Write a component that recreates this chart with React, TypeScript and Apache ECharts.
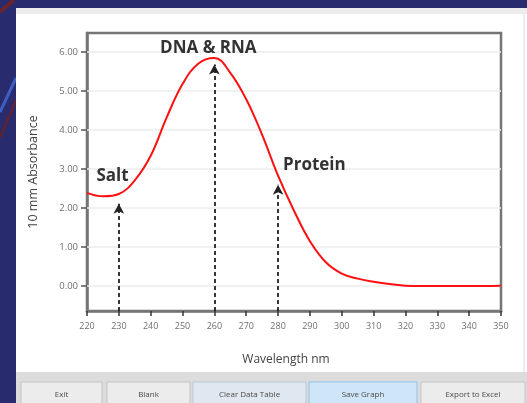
import React, { useEffect, useRef } from "react";
import * as echarts from "echarts";

// ---- data ----
const wavelengths = [220, 225, 230, 235, 240, 245, 250, 255, 260, 265, 270, 275, 280, 285, 290, 295, 300, 305, 310, 315, 320, 325, 330, 335, 340, 345, 350];
const absorbance = [2.38, 2.29, 2.35, 2.7, 3.33, 4.31, 5.17, 5.7, 5.84, 5.46, 4.78, 3.87, 2.82, 1.92, 1.14, 0.6, 0.31, 0.18, 0.1, 0.04, 0.0, -0.01, -0.01, -0.01, -0.01, -0.01, 0.0];

const yTickValues = [0, 1, 2, 3, 4, 5, 6];
const xTickLabels = ["220", "230", "240", "250", "260", "270", "280", "290", "300", "310", "320", "330", "340", "350"];

const peakNames = ["Salt", "DNA & RNA", "Protein"];
const arrowWavelengths = [230, 260, 280];
const arrowTips = [2.1, 5.67, 2.59];
const labelWavelengths = [228, 258.1, 291.4];
const labelValues = [2.85, 6.13, 3.13];

const buttonNames = ["Exit", "Blank", "Clear Data Table", "Save Graph", "Export to Excel"];

const Y_MIN = -0.65;
const Y_MAX = 6.48;

export default function App() {
  const ref = useRef<HTMLDivElement>(null);

  useEffect(() => {
    document.body.style.margin = "0";
    const chart = echarts.init(ref.current!, null, { renderer: "svg" });

    const btnBoxes = [
      [21, 102],
      [107, 190],
      [193, 306],
      [309, 417],
      [421, 525],
    ];
    const btnFills = ["#ececec", "#ececec", "#dfe8f0", "#cfe6f8", "#ececec"];
    const btnStrokes = ["#c4c4c4", "#c4c4c4", "#b7c9da", "#8fc0e8", "#c4c4c4"];

    const graphics: any[] = [
      { type: "rect", z: -10, shape: { x: 0, y: 0, width: 527, height: 403 }, style: { fill: "#282b6d" } },
      { type: "line", z: -9, shape: { x1: 0, y1: 112, x2: 16, y2: 78 }, style: { stroke: "#3f5fc0", lineWidth: 3 } },
      { type: "line", z: -9, shape: { x1: 0, y1: 138, x2: 16, y2: 100 }, style: { stroke: "#5a2438", lineWidth: 3 } },
      { type: "line", z: -9, shape: { x1: 0, y1: 12, x2: 14, y2: 0 }, style: { stroke: "#6a2430", lineWidth: 4 } },
      { type: "rect", z: -8, shape: { x: 16, y: 8, width: 511, height: 365 }, style: { fill: "#ffffff" } },
      { type: "rect", z: -8, shape: { x: 16, y: 8, width: 511, height: 6 }, style: { fill: "#ececec" } },
      { type: "line", z: -8, shape: { x1: 524, y1: 14, x2: 524, y2: 372 }, style: { stroke: "#dadada", lineWidth: 1 } },
      { type: "rect", z: -8, shape: { x: 16, y: 372, width: 511, height: 31 }, style: { fill: "#dcdcdc" } },
    ];
    buttonNames.forEach((name, i) => {
      const [x0, x1] = btnBoxes[i];
      graphics.push({
        type: "rect",
        z: -7,
        shape: { x: x0, y: 382, width: x1 - x0, height: 22 },
        style: { fill: btnFills[i], stroke: btnStrokes[i], lineWidth: 1 },
      });
      graphics.push({
        type: "text",
        z: -6,
        x: (x0 + x1) / 2,
        y: 393,
        style: {
          text: name,
          fill: "#4a4a4a",
          font: "8px 'Open Sans'",
          align: "center",
          verticalAlign: "middle",
        },
      });
    });

    const option: any = {
      animation: false,
      graphic: graphics,
      grid: {
        left: 87,
        top: 33,
        right: 26,
        bottom: 92,
        show: true,
        borderColor: "#757575",
        borderWidth: 2.5,
        backgroundColor: "transparent",
      },
      xAxis: {
        type: "value",
        min: 220,
        max: 350,
        interval: 10,
        name: "Wavelength nm",
        nameLocation: "middle",
        nameGap: 41,
        nameTextStyle: {
          fontFamily: "Open Sans",
          fontSize: 12,
          color: "#444444",
          padding: [0, 16, 0, 0],
        },
        axisLine: { show: true, onZero: false, lineStyle: { color: "#757575", width: 2.5 } },
        axisTick: { show: true, length: 5, lineStyle: { color: "#333333", width: 1.5 } },
        axisLabel: {
          color: "#707070",
          fontFamily: "Open Sans",
          fontSize: 9,
          margin: 10,
          formatter: (v: number) => xTickLabels[Math.round((v - 220) / 10)] ?? "",
        },
        splitLine: { show: false },
      },
      yAxis: {
        type: "value",
        min: Y_MIN,
        max: Y_MAX,
        name: "10 mm Absorbance",
        nameLocation: "middle",
        nameGap: 48,
        nameTextStyle: {
          fontFamily: "Open Sans",
          fontSize: 12.5,
          color: "#444444",
        },
        axisLine: { show: true, onZero: false, lineStyle: { color: "#757575", width: 2.5 } },
        axisTick: {
          show: true,
          length: 6,
          customValues: yTickValues,
          lineStyle: { color: "#555555", width: 1.5 },
        },
        axisLabel: {
          customValues: yTickValues,
          color: "#707070",
          fontFamily: "Open Sans",
          fontSize: 9.5,
          margin: 9,
          formatter: (v: number) => v.toFixed(2),
        },
        splitLine: { show: false },
      },
      series: [
        {
          type: "line",
          name: "gridlines",
          data: [],
          z: 1,
          silent: true,
          markLine: {
            silent: true,
            symbol: "none",
            label: { show: false },
            lineStyle: { color: "#ececec", width: 1.5, type: "solid" },
            data: yTickValues.map((v) => ({ yAxis: v })),
            z: 1,
          },
        },
        {
          type: "line",
          name: "absorbance",
          data: wavelengths.map((w, i) => [w, absorbance[i]]),
          smooth: 0.4,
          showSymbol: false,
          symbol: "none",
          z: 3,
          lineStyle: { color: "#ff1010", width: 2 },
        },
        {
          type: "line",
          name: "arrows",
          data: [],
          z: 2,
          silent: true,
          markLine: {
            silent: true,
            symbol: ["none", "arrow"],
            symbolSize: [8, 10],
            label: { show: false },
            lineStyle: { color: "#222222", width: 1.8, type: [4, 3] },
            data: arrowWavelengths.map((w, i) => [
              { coord: [w, Y_MIN] },
              { coord: [w, arrowTips[i]] },
            ]),
          },
          markPoint: {
            silent: true,
            symbol: "circle",
            symbolSize: 1,
            itemStyle: { color: "transparent" },
            label: {
              show: true,
              position: "inside",
              formatter: (p: any) => p.name,
              fontFamily: "Open Sans",
              fontWeight: "bold",
              fontSize: 17,
              color: "#333333",
            },
            data: peakNames.map((n, i) => ({
              name: n,
              coord: [labelWavelengths[i], labelValues[i]],
            })),
          },
        },
      ],
    };

    chart.setOption(option);
    return () => chart.dispose();
  }, []);

  return (
    <div
      ref={ref}
      style={{ position: "fixed", left: 0, top: 0, width: 527, height: 403 }}
    />
  );
}
